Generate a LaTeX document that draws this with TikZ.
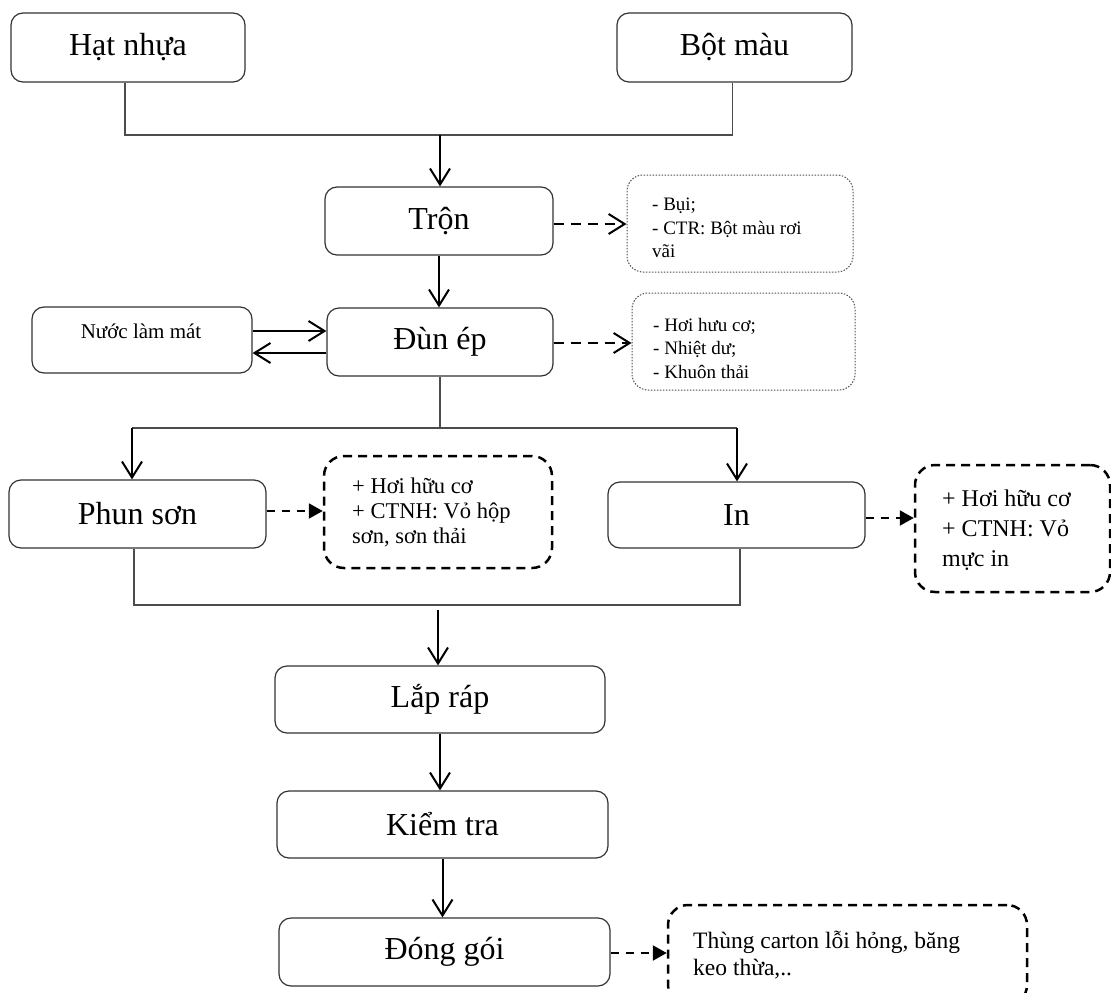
\documentclass[tikz,border=0pt]{standalone}
\usepackage{fontspec}
\setmainfont{Liberation Serif}
\usetikzlibrary{arrows.meta}
\begin{document}
\begin{tikzpicture}[x=1pt,y=-1pt,
 procbox/.style={draw=black!80, line width=1.2pt, rounded corners=12pt, inner sep=0pt, font=\fontsize{32}{38}\selectfont},
 notedot/.style={draw=black!70, line width=1pt, dash pattern=on 1.5pt off 1.5pt, rounded corners=16pt, inner sep=0pt},
 notedash/.style={draw=black, line width=2.5pt, dash pattern=on 9pt off 6pt, rounded corners=20pt, inner sep=0pt},
 thinline/.style={draw=black!70, line width=1.2pt},
 arr/.style={draw=black, line width=2pt, -{Straight Barb[length=16pt,width=20pt]}},
 dasharr/.style={arr, dash pattern=on 10pt off 7pt},
 dashtri/.style={draw=black, line width=2.2pt, dash pattern=on 8pt off 7pt, -{Triangle[length=14pt,width=15pt]}},
 notetext/.style={anchor=west, align=left, inner sep=0pt},
]
\useasboundingbox (0,0) rectangle (1111,993);

% main boxes
\node[procbox, minimum width=234pt, minimum height=69pt] (hat) at (128,47.5) {Hạt nhựa};
\node[procbox, minimum width=235pt, minimum height=69pt] (bot) at (734.5,47.5) {Bột màu};
\node[procbox, minimum width=228pt, minimum height=68pt] (tron) at (439,221) {Trộn};
\node[procbox, minimum width=226pt, minimum height=68pt] (dun) at (440,342) {Đùn ép};
\node[procbox, minimum width=220pt, minimum height=66pt] (nuoc) at (142,340) {};
\node[inner sep=0pt, font=\fontsize{21}{25}\selectfont] (nuoctext) at (141,331) {Nước làm mát};
\node[procbox, minimum width=257pt, minimum height=68pt] (phun) at (137.5,514) {Phun sơn};
\node[procbox, minimum width=257pt, minimum height=66pt] (inbox) at (736.5,515) {In};
\node[procbox, minimum width=330pt, minimum height=67pt] (lap) at (440,699.5) {Lắp ráp};
\node[procbox, minimum width=331pt, minimum height=67pt] (kiem) at (442.5,824.5) {Kiểm tra};
\node[procbox, minimum width=331pt, minimum height=68pt] (dong) at (444.5,952) {Đóng gói};

% note boxes
\node[notedot, minimum width=226pt, minimum height=97pt] (tronnote) at (740,223.5) {};
\node[notetext, font=\fontsize{19}{23.5}\selectfont] (tronnotetext) at (652,228) {- Bụi;\\- CTR: Bột màu rơi\\vãi};
\node[notedot, minimum width=223pt, minimum height=97pt] (dunnote) at (743.5,341.5) {};
\node[notetext, font=\fontsize{19}{23.5}\selectfont] (dunnotetext) at (653,348) {- Hơi hưu cơ;\\- Nhiệt dư;\\- Khuôn thải};
\node[notedash, minimum width=228pt, minimum height=112pt] (phunnote) at (438,512) {};
\node[notetext, font=\fontsize{22.5}{25}\selectfont] (phunnotetext) at (352,512) {+ Hơi hữu cơ\\+ CTNH: Vỏ hộp\\sơn, sơn thải};
\node[notedash, minimum width=195pt, minimum height=127pt] (innote) at (1012.5,528.5) {};
\node[notetext, font=\fontsize{24}{30}\selectfont] (innotetext) at (942,530) {+ Hơi hữu cơ\\+ CTNH: Vỏ\\mực in};
\node[notedash, minimum width=359pt, minimum height=100pt] (dongnote) at (847.5,955) {};
\node[notetext, font=\fontsize{23.5}{27}\selectfont] (dongnotetext) at (693,955) {Thùng carton lỗi hỏng, băng\\keo thừa,..};

% junction coordinates
\coordinate (jtop) at (440,135);
\coordinate (jmid) at (440,428);
\coordinate (jl) at (132,428);
\coordinate (jr) at (737,428);
\coordinate (jbl) at (134,605);
\coordinate (jbr) at (740,605);
\coordinate (jbot) at (438,610);

% connectors
\draw[thinline] ([xshift=-3pt]hat.south) |- (jtop) -| ([xshift=-2pt]bot.south);
\draw[arr] (jtop) -- (jtop |- tron.north);
\draw[arr] (tron.south) -- (tron.south |- dun.north);
\draw[arr] (nuoc.east |- 0,331) -- (dun.west |- 0,331);
\draw[arr] (dun.west |- 0,353) -- (nuoc.east |- 0,353);
\draw[dasharr] (tron.east |- 0,224) -- (tronnote.west |- 0,224);
\draw[dasharr] (dun.east |- 0,343) -- (dunnote.west |- 0,343);
\draw[thinline] (dun.south) -- (jmid);
\draw[thinline] (jl) -- (jr);
\draw[arr] (jl) -- (jl |- phun.north);
\draw[arr] (jr) -- (jr |- inbox.north);
\draw[dashtri] (phun.east |- 0,511) -- (phunnote.west |- 0,511);
\draw[dashtri] (inbox.east |- 0,518) -- (innote.west |- 0,518);
\draw[thinline] (jbl |- phun.south) -- (jbl) -- (jbr) -- (jbr |- inbox.south);
\draw[arr] (jbot) -- (jbot |- lap.north);
\draw[arr] (lap.south) -- (lap.south |- kiem.north);
\draw[arr] (kiem.south) -- (kiem.south |- dong.north);
\draw[dashtri] (dong.east |- 0,953) -- (dongnote.west |- 0,953);
\end{tikzpicture}
\end{document}
